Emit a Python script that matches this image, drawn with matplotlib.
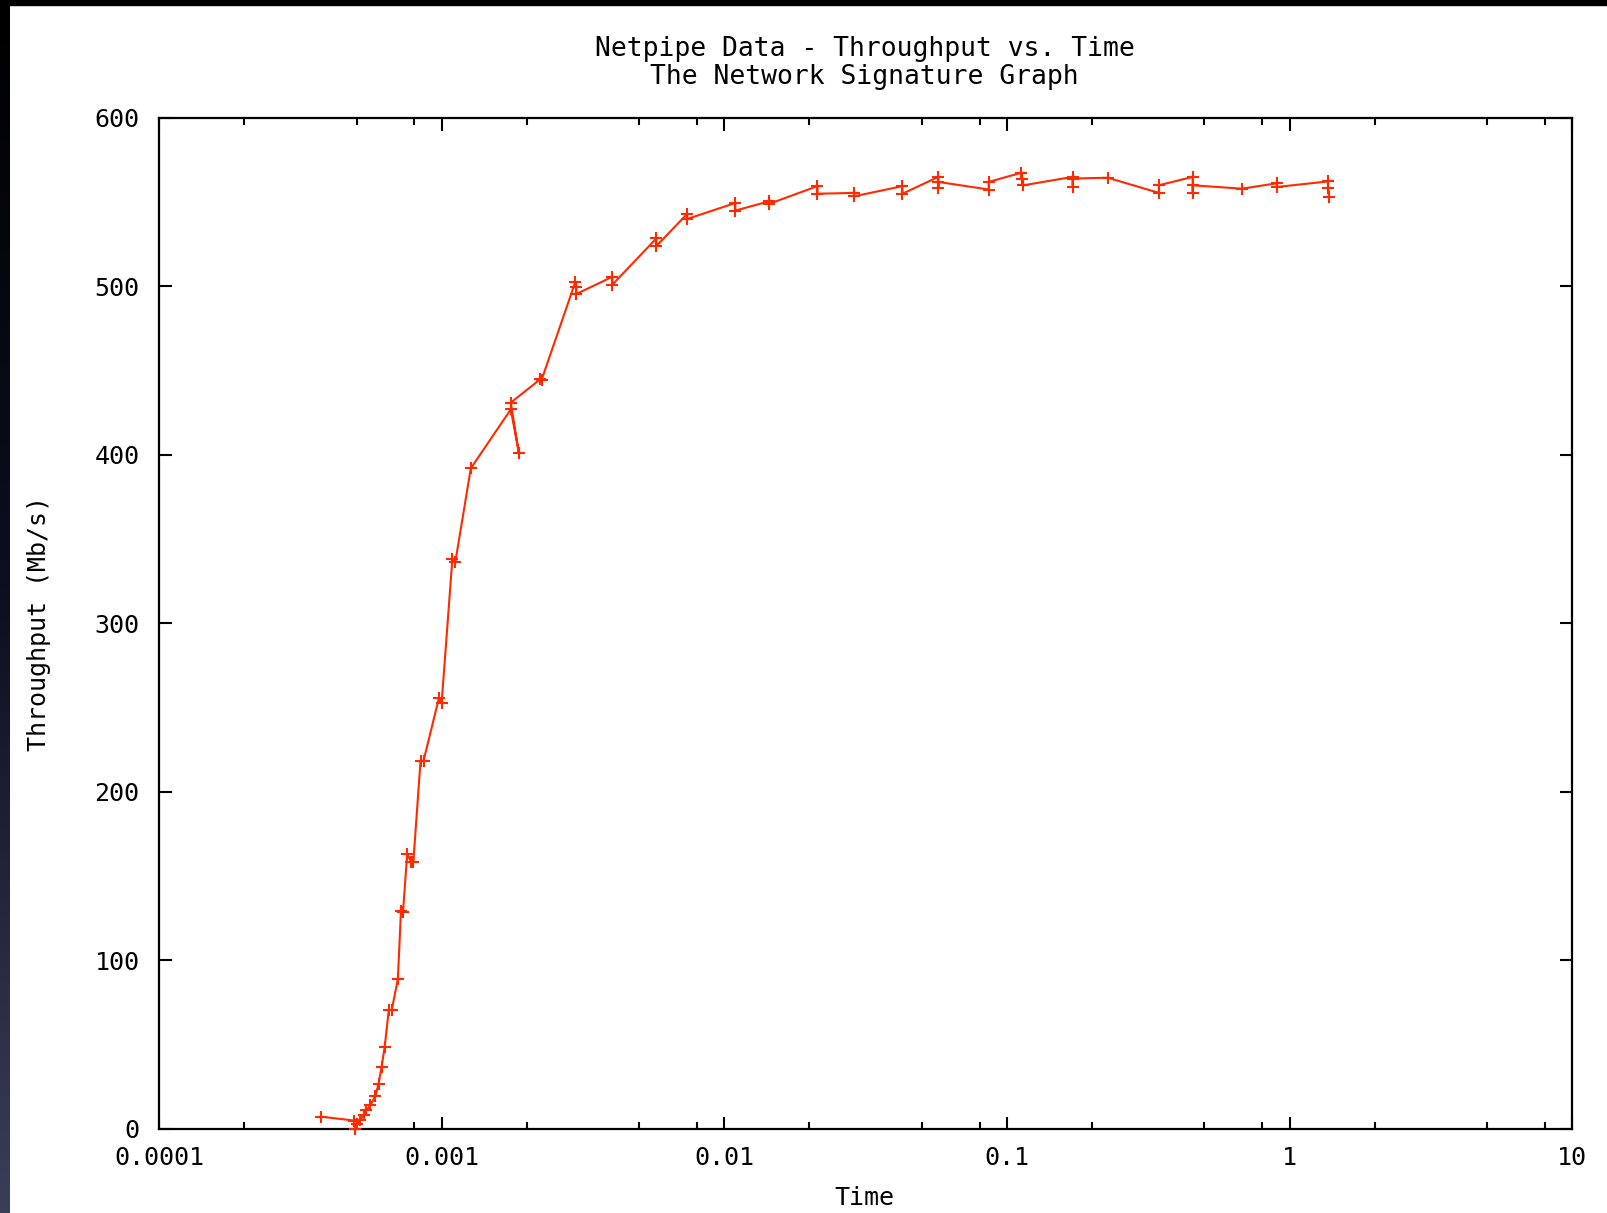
import matplotlib
matplotlib.use('Agg')
import matplotlib.pyplot as plt
import numpy as np
from matplotlib.ticker import FixedLocator, NullFormatter
from matplotlib.patches import Rectangle

# netpipe samples, in the order they were written out
times = [0.000374, 0.000489, 0.000494, 0.000503, 0.000515, 0.000530, 0.000541,
         0.000559, 0.000583, 0.000598, 0.000613, 0.000629, 0.000650, 0.000666,
         0.000700, 0.000718, 0.000730, 0.000755, 0.000781, 0.000794, 0.000842,
         0.000863, 0.000979, 0.001000, 0.001091, 0.001118, 0.001268, 0.001756,
         0.001877, 0.001756, 0.002237, 0.002257, 0.002973, 0.002996, 0.002996,
         0.004016, 0.004016, 0.005752, 0.005752, 0.00739, 0.00739, 0.01094,
         0.01094, 0.01442, 0.01442, 0.02136, 0.02136, 0.02885, 0.02885,
         0.04271, 0.04271, 0.05723, 0.05723, 0.05723, 0.08619, 0.08619,
         0.1126, 0.1135, 0.1144, 0.1710, 0.1710, 0.1710, 0.2272,
         0.3449, 0.3449, 0.4545, 0.4545, 0.4545, 0.6785, 0.9017, 0.9017,
         1.369, 1.369, 1.380]
throughput = [7.3, 5.0, 0.0, 3.0, 5.5, 8.0, 11.0,
              14.0, 19.5, 26.8, 36.8, 48.9, 70.6, 70.6,
              89.0, 129.6, 129.0, 163.0, 158.5, 158.5, 218.5,
              218.5, 256.0, 253.0, 338.0, 336.5, 392.0, 427.0,
              401.0, 431.0, 445.0, 444.5, 502.7, 499.6, 495.5,
              505.7, 501.0, 528.5, 524.0, 543.0, 540.0, 549.5,
              545.0, 550.5, 549.0, 559.5, 555.0, 555.5, 553.5,
              559.5, 555.0, 565.0, 558.5, 562.0, 557.5, 562.0,
              567.5, 564.0, 560.0, 565.0, 559.0, 564.0, 564.5,
              555.5, 560.0, 565.0, 555.5, 560.0, 558.0, 561.2, 559.0,
              562.3, 558.3, 553.3]

xticks = [0.0001, 0.001, 0.01, 0.1, 1, 10]
xticklabels = ["0.0001", "0.001", "0.01", "0.1", "1", "10"]
yticks = [0, 100, 200, 300, 400, 500, 600]

plt.rcParams['font.family'] = ['DejaVu Sans Mono', 'DejaVu Sans']

fig = plt.figure(figsize=(16.08, 12.13), dpi=100)

# slide edges: dark gradient strip on the left, black band on top
strip = fig.add_axes([0, 0, 10 / 1608, 1])
grad = np.linspace(0, 1, 256).reshape(-1, 1)
strip.imshow(grad, aspect='auto', cmap=matplotlib.colors.LinearSegmentedColormap.from_list(
    'edge', ['#000000', '#0d0f22', '#3b3e58']), origin='upper')
strip.axis('off')
fig.patches.append(Rectangle((0, 1 - 5 / 1213), 1, 5 / 1213, transform=fig.transFigure,
                             color='black', zorder=10))

ax = fig.add_axes([0.0989, 0.0693, 0.9777 - 0.0989, 0.9028 - 0.0693])
ax.plot(times, throughput, color='#ff2a00', lw=1.5, marker='+', ms=9, mew=1.5,
        clip_on=False, zorder=3)

ax.set_xscale('log')
ax.set_xlim(0.0001, 10)
ax.set_ylim(0, 600)
ax.xaxis.set_major_locator(FixedLocator(xticks))
ax.set_xticklabels(xticklabels)
minors = [m * d for d in [0.0001, 0.001, 0.01, 0.1, 1] for m in (2, 5, 8)]
ax.xaxis.set_minor_locator(FixedLocator(minors))
ax.xaxis.set_minor_formatter(NullFormatter())
ax.set_yticks(yticks)

ax.tick_params(which='both', direction='in', top=True, right=True, width=1.5,
               labelsize=18, colors='black')
ax.tick_params(which='major', length=9)
ax.tick_params(axis='x', which='major', pad=12)
ax.tick_params(axis='y', which='major', pad=14)
ax.tick_params(which='minor', length=5)
for sp in ax.spines.values():
    sp.set_linewidth(1.6)

fig.text(0.5378, 0.9595, "Netpipe Data - Throughput vs. Time", ha='center', va='center', fontsize=19)
fig.text(0.5378, 0.9368, "The Network Signature Graph", ha='center', va='center', fontsize=19)
fig.text(0.5378, 0.0127, "Time", ha='center', va='center', fontsize=18)
fig.text(0.0242, 0.486, "Throughput (Mb/s)", ha='center', va='center', rotation=90, fontsize=18)

fig.savefig('out.png', dpi=100)
plt.close()
